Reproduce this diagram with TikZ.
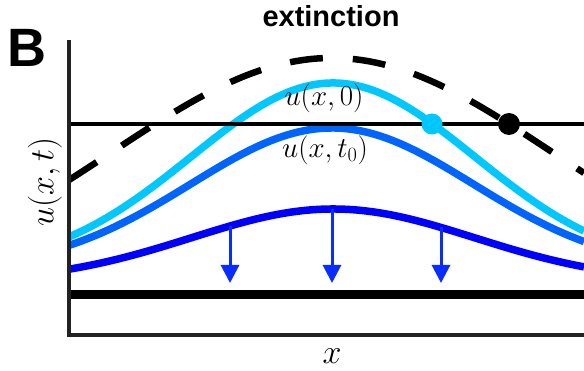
\RequirePackage{fix-cm}
\documentclass[tikz,border=0pt]{standalone}
\usepackage{fontspec}
\newfontfamily\helv{Liberation Sans}
\usetikzlibrary{arrows.meta}
\definecolor{ucyan}{RGB}{0,200,255}
\definecolor{umid}{RGB}{0,100,255}
\definecolor{udark}{RGB}{0,0,255}
\definecolor{uarrow}{RGB}{10,45,255}
\definecolor{axisgray}{RGB}{34,34,34}
\begin{document}
\begin{tikzpicture}[x=1pt,y=-1pt,
  curve/.style={line width=7.5pt},
  dropline/.style={uarrow, line width=3pt, -{Triangle[width=18pt,length=18pt]}},
  mathlab/.style={inner sep=0pt, font=\fontsize{29}{32}\selectfont},
  axislab/.style={inner sep=0pt, font=\fontsize{34}{36}\selectfont},
  dotnode/.style={circle, inner sep=0pt, minimum size=21pt}]
\useasboundingbox (0,0) rectangle (584,371);
% dashed curve
\draw[line width=6.5pt, dash pattern=on 33pt off 30pt]
  plot[domain=69:584, samples=160]
  (\x,{297-239*exp(-((\x-332)/100)*((\x-332)/100)/9.68)});
% solution curves
\draw[curve, ucyan] plot[domain=69:584, samples=160]
  (\x,{269.6-186.6*exp(-((\x-333)/100)*((\x-333)/100)/4)});
\draw[curve, umid] plot[domain=69:584, samples=160]
  (\x,{270.7-142.7*exp(-((\x-332)/100)*((\x-332)/100)/4)});
\draw[curve, udark] plot[domain=69:584, samples=160]
  (\x,{282-73*exp(-((\x-333)/100)*((\x-333)/100)/4)});
% threshold line
\coordinate (hl) at (69,124);
\coordinate (hr) at (584,124);
\draw[line width=3.5pt] (hl) -- (hr);
% extinction level
\coordinate (zl) at (69,294.5);
\coordinate (zr) at (584,294.5);
\draw[line width=9pt] (zl) -- (zr);
% axes
\coordinate (ytop) at (69,40);
\coordinate (orig) at (69,335);
\coordinate (xend) at (584,335);
\draw[axisgray, line width=4pt] (ytop) -- (orig) -- (xend);
% dots
\node[dotnode, fill=ucyan] (cdot) at (432,124) {};
\node[dotnode, fill=black, minimum size=22pt] (bdot) at (509,124) {};
% arrows
\coordinate (a1s) at (230,{282-73*exp(-((230-333)/100)*((230-333)/100)/4)});
\coordinate (a1e) at (230,283);
\coordinate (a2s) at (332,{282-73*exp(-((332-333)/100)*((332-333)/100)/4)});
\coordinate (a2e) at (332,283);
\coordinate (a3s) at (441,{282-73*exp(-((441-333)/100)*((441-333)/100)/4)});
\coordinate (a3e) at (441,283);
\draw[dropline] (a1s) -- (a1e);
\draw[dropline] (a2s) -- (a2e);
\draw[dropline] (a3s) -- (a3e);
% labels
\node[anchor=base, inner sep=0pt] (title) at (331,27) {\helv\bfseries\fontsize{29}{30}\selectfont extinction};
\node[anchor=base west, inner sep=0pt] (panel) at (7,67) {\helv\bfseries\fontsize{54}{56}\selectfont B};
\node[mathlab] (lab0) at (324,98) {$u(x,0)$};
\node[mathlab] (labt0) at (325,150) {$u(x,t_0)$};
\node[axislab, rotate=90] (ylab) at (45,182) {$u(x,t)$};
\node[axislab] (xlab) at (332,356) {$x$};
\end{tikzpicture}
\end{document}
